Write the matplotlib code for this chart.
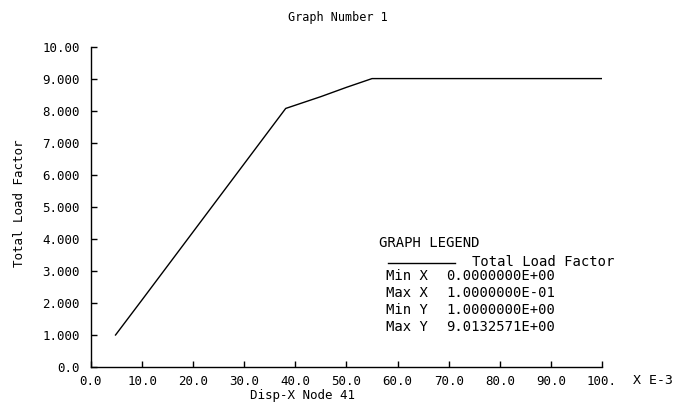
import matplotlib
matplotlib.use("Agg")
import matplotlib.pyplot as plt

# Load-displacement curve (x in units of 1E-3)
disp_x = [4.8, 10.0, 38.1, 45.0, 50.0, 55.0, 100.0]
load_factor = [1.0, 2.1, 8.08, 8.45, 8.74, 9.013, 9.013]

x_ticks = [0, 10, 20, 30, 40, 50, 60, 70, 80, 90, 100]
x_tick_labels = ["0.0", "10.0", "20.0", "30.0", "40.0", "50.0",
                 "60.0", "70.0", "80.0", "90.0", "100."]
y_ticks = [0, 1, 2, 3, 4, 5, 6, 7, 8, 9, 10]
y_tick_labels = ["0.0", "1.000", "2.000", "3.000", "4.000", "5.000",
                 "6.000", "7.000", "8.000", "9.000", "10.00"]

legend_rows = [("Min X", "0.0000000E+00"),
               ("Max X", "1.0000000E-01"),
               ("Min Y", "1.0000000E+00"),
               ("Max Y", "9.0132571E+00")]

W, H = 677, 403
font = "DejaVu Sans Mono"
plt.rcParams['font.family'] = font

fig = plt.figure(figsize=(W / 100, H / 100), dpi=100)
ax = fig.add_axes([91 / W, 1 - 367 / H, 511 / W, 320 / H])

ax.plot(disp_x, load_factor, color="black", linewidth=1.0)

ax.set_xlim(0, 100)
ax.set_ylim(0, 10)
ax.set_xticks(x_ticks)
ax.set_xticklabels(x_tick_labels)
ax.set_yticks(y_ticks)
ax.set_yticklabels(y_tick_labels)
ax.tick_params(direction="in", length=4, width=1, labelsize=9)
ax.tick_params(axis="y", pad=8)
ax.tick_params(axis="x", pad=6)

for side in ["top", "right"]:
    ax.spines[side].set_visible(False)
for side in ["left", "bottom"]:
    ax.spines[side].set_linewidth(1.0)


def px(x, y):
    return x / W, 1 - y / H


## Titles and labels
fig.text(*px(338, 18), "Graph Number 1", ha="center", va="center", fontsize=8.5)
fig.text(*px(302, 395), "Disp-X Node 41", ha="center", va="center", fontsize=9)
fig.text(*px(20, 203), "Total Load Factor", ha="center", va="center",
         rotation=90, fontsize=9)
fig.text(*px(633, 381), "X E-3", ha="left", va="center", fontsize=9.5)

## Legend block
legend_fs = 10
fig.text(*px(379, 243), "GRAPH LEGEND", ha="left", va="center", fontsize=legend_fs)
fig.add_artist(plt.Line2D([388 / W, 455 / W], [1 - 263 / H, 1 - 263 / H],
                          color="black", linewidth=1.0))
fig.text(*px(472, 262), "Total Load Factor", ha="left", va="center", fontsize=legend_fs)
for i, (name, val) in enumerate(legend_rows):
    y = 276 + i * 17
    fig.text(*px(386, y), name, ha="left", va="center", fontsize=legend_fs)
    fig.text(*px(446, y), val, ha="left", va="center", fontsize=legend_fs)

fig.savefig("out.png", dpi=100)
